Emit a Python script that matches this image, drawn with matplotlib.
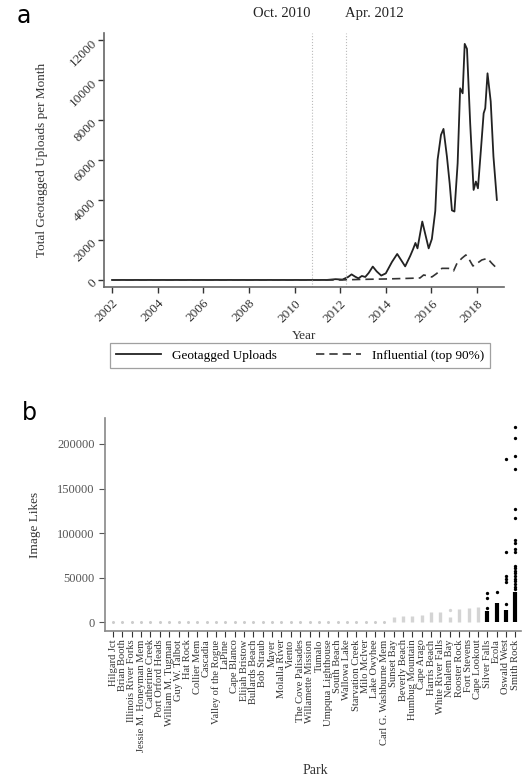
import matplotlib
matplotlib.use("Agg")
from matplotlib import pyplot as plt
from matplotlib.transforms import blended_transform_factory

plt.rcParams['font.family'] = ['Liberation Serif', 'DejaVu Serif']

# panel a: monthly geotagged uploads (decimal year, count)
upload_year = [2002.0, 2011.4, 2011.8, 2012.1, 2012.35, 2012.5, 2012.65, 2012.8, 2012.95,
               2013.1, 2013.25, 2013.43, 2013.6, 2013.8, 2014.0, 2014.27, 2014.5,
               2014.85, 2015.07, 2015.2, 2015.3, 2015.39, 2015.6, 2015.88, 2016.02,
               2016.17, 2016.27, 2016.42, 2016.53, 2016.68, 2016.8, 2016.9, 2017.01,
               2017.15, 2017.26, 2017.37, 2017.46, 2017.56, 2017.7, 2017.85, 2017.95,
               2018.04, 2018.17, 2018.29, 2018.36, 2018.46, 2018.6, 2018.72, 2018.87]
upload_count = [0, 0, 40, 20, 150, 280, 170, 80, 200,
                150, 350, 670, 430, 220, 330, 900, 1300,
                680, 1200, 1550, 1850, 1580, 2920, 1580, 2050,
                3450, 6000, 7250, 7550, 6170, 4830, 3480, 3420,
                5830, 9580, 9330, 11800, 11550, 7830, 4500, 4920,
                4580, 6500, 8330, 8580, 10330, 8920, 6170, 4000]

influential_year = [2002.0, 2012.0, 2013.0, 2014.0, 2015.0, 2015.5, 2015.66, 2015.85,
                    2016.02, 2016.24, 2016.46, 2016.75, 2016.97, 2017.12, 2017.33,
                    2017.51, 2017.63, 2017.82, 2018.0, 2018.21, 2018.46, 2018.65, 2018.87]
influential_count = [0, 0, 30, 50, 80, 100, 250, 200,
                     150, 330, 580, 580, 450, 830, 1080,
                     1250, 1080, 700, 830, 1000, 1080, 830, 580]

events = [2010.75, 2012.25]
event_labels = ["Oct. 2010", "Apr. 2012"]

# panel b: image likes per park
parks = ["Hilgard Jct", "Brian Booth", "Illinois River Forks", "Jessie M. Honeyman Mem",
         "Catherine Creek", "Port Orford Heads", "William M. Tugman", "Guy W. Talbot",
         "Hat Rock", "Collier Mem", "Cascadia", "Valley of the Rogue", "LaPine",
         "Cape Blanco", "Elijah Bristow", "Bullards Beach", "Bob Straub", "Mayer",
         "Molalla River", "Viento", "The Cove Palisades", "Willamette Mission", "Tumalo",
         "Umpqua Lighthouse", "South Beach", "Wallowa Lake", "Starvation Creek",
         "Milo McIver", "Lake Owyhee", "Carl G. Washburne Mem", "Sunset Bay",
         "Beverly Beach", "Humbug Mountain", "Cape Arago", "Harris Beach",
         "White River Falls", "Nehalem Bay", "Rooster Rock", "Fort Stevens",
         "Cape Lookout", "Silver Falls", "Ecola", "Oswald West", "Smith Rock"]
# top of the dense run of likes for each park
likes_bulk_top = [0, 0, 0, 0, 0, 0, 0, 0, 0, 0,
                  0, 0, 0, 0, 0, 0, 0, 0, 0, 0,
                  0, 0, 0, 0, 0, 0, 0, 0, 0, 0,
                  5600, 7000, 7000, 8200, 11200, 11900, 5600, 14600, 15700, 17300,
                  13000, 21500, 13800, 34300]
likes_outliers = {
    "Nehalem Bay": [13800],
    "Silver Falls": [16000, 27000, 33000],
    "Ecola": [34300],
    "Oswald West": [20500, 45500, 48500, 51500, 79000, 182700],
    "Smith Rock": [37000, 40000, 43000, 46000, 49000, 52000, 55000, 58000, 61000, 63000,
                   79000, 82000, 89000, 92000, 116600, 127000, 171500, 187000, 206600, 219300],
}
top_parks = ["Silver Falls", "Ecola", "Oswald West", "Smith Rock"]

fig = plt.figure(figsize=(5.23, 7.83), dpi=100)

# ---------- panel a ----------
ax1 = fig.add_axes([0.199, 0.6335, 0.765, 0.3245])
ax1.plot(upload_year, upload_count, color="#222222", lw=1.3, label="Geotagged Uploads")
ax1.plot(influential_year, influential_count, color="#333333", lw=1.2,
         dashes=(5, 3), label="Influential (top 90%)")
trans = blended_transform_factory(ax1.transData, ax1.transAxes)
for ev, lab, ha in zip(events, event_labels, ["right", "left"]):
    ax1.axvline(ev, color="#bbbbbb", lw=0.8, ls=":")
    ax1.text(ev - 0.05, 1.075, lab, transform=trans,
             ha=ha, va="center", fontsize=10.5, color="#222222")

ax1.set_xlim(2001.65, 2019.19)
ax1.set_ylim(-350, 12350)
ax1.set_xticks(range(2002, 2019, 2))
ax1.set_yticks(range(0, 12001, 2000))
for lab in ax1.get_xticklabels() + ax1.get_yticklabels():
    lab.set_rotation(45)
    lab.set_ha("right")
    lab.set_rotation_mode("anchor")
ax1.tick_params(labelsize=9.5, colors="#333333", length=4, width=1)
ax1.set_xlabel("Year", fontsize=9.5, color="#333333", labelpad=4)
ax1.set_ylabel("Total Geotagged Uploads per Month", fontsize=9.5, color="#333333", labelpad=14)
for s in ["top", "right"]:
    ax1.spines[s].set_visible(False)
for s in ["left", "bottom"]:
    ax1.spines[s].set_color("#666666")
    ax1.spines[s].set_linewidth(1.2)

leg = fig.legend(loc="center", bbox_to_anchor=(0.574, 0.546), ncol=2, fontsize=9.5,
                 frameon=True, fancybox=False, handlelength=3.4, columnspacing=3.0,
                 borderpad=0.45)
leg.get_frame().set_edgecolor("#888888")
leg.get_frame().set_linewidth(0.9)

fig.text(0.032, 0.979, "a", fontsize=17, family="DejaVu Sans", va="center", ha="left")

# ---------- panel b ----------
ax2 = fig.add_axes([0.201, 0.194, 0.795, 0.272])
for i, (park, top) in enumerate(zip(parks, likes_bulk_top)):
    dark = park in top_parks
    color = "black" if dark else "#d4d4d4"
    if top > 0:
        ax2.vlines(i, 0, top, color=color, lw=3.0 if dark else 2.4)
    else:
        ax2.plot(i, 0, "o", ms=2.2, color="#cccccc", mec="none")
    pts = likes_outliers.get(park, [])
    if pts:
        ax2.plot([i] * len(pts), pts, "o", ms=2.4, color=color, mec="none")

ax2.set_xlim(-0.85, 43.6)
ax2.set_ylim(-9800, 229000)
ax2.set_xticks(range(len(parks)))
ax2.set_xticklabels(parks, rotation=90, fontsize=7.6, color="#222222")
ax2.set_yticks(range(0, 200001, 50000))
ax2.tick_params(axis="y", labelsize=9, colors="#555555", length=4)
ax2.tick_params(axis="x", colors="#333333", length=4, pad=2)
ax2.set_ylabel("Image Likes", fontsize=9.5, color="#333333", labelpad=12)
ax2.set_xlabel("Park", fontsize=10, color="#333333")
ax2.xaxis.set_label_coords(0.505, -0.625)
for s in ["top", "right"]:
    ax2.spines[s].set_visible(False)
for s in ["left", "bottom"]:
    ax2.spines[s].set_color("#888888")
    ax2.spines[s].set_linewidth(1.2)

fig.text(0.042, 0.473, "b", fontsize=17, family="DejaVu Sans", va="center", ha="left")

fig.savefig("out.png", dpi=100)
